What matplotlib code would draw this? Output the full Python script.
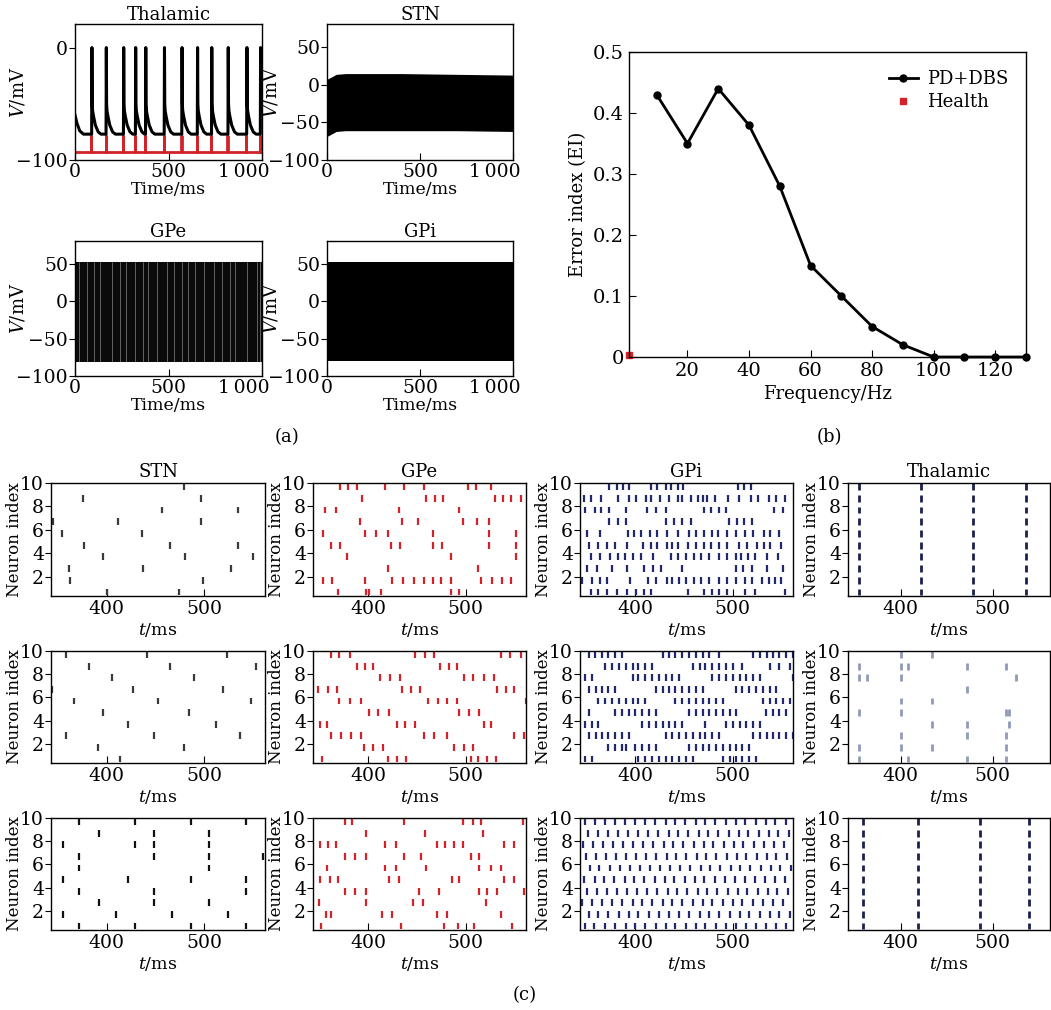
import matplotlib
matplotlib.use("Agg")
import matplotlib.pyplot as plt
from matplotlib.transforms import ScaledTranslation
import numpy as np

plt.rcParams['font.family'] = ['DejaVu Serif']
plt.rcParams['mathtext.fontset'] = 'dejavuserif'
plt.rcParams['font.size'] = 12.5
plt.rcParams['xtick.labelsize'] = 13.5
plt.rcParams['ytick.labelsize'] = 13.5
plt.rcParams['axes.titlesize'] = 13
plt.rcParams['axes.linewidth'] = 1.0

W, H = 1051, 1010

# ---------------- (a) membrane potentials ----------------
thal_spikes = [89, 166, 259, 323, 377, 477, 571, 654, 730, 818, 918, 991]
# one thalamic spike: offset from spike (ms), voltage (mV)
thal_shape_dt = [0, 1.5, 3, 5, 10, 20, 35, 50]
thal_shape_v = [-77, 0, -50, -56, -61, -69, -75, -77]
thal_start_t = [0, 10, 25, 45]
thal_start_v = [-60, -67, -74, -77]
red_spikes = [87, 164, 257, 321, 375, 475, 569, 652, 728, 815, 915, 988]
red_rest, red_peak = -93, -79

stn_env_t = [0, 5, 20, 50, 100, 400, 700, 1000]
stn_env_hi = [8, 8, 10, 14, 15, 15, 14, 13]
stn_env_lo = [-68, -68, -66, -62, -61, -61, -61, -62]
stn_first_peak = 60

gpe_env_t = [0, 1000]
gpe_env_hi = [53, 53]
gpe_env_lo = [-81, -81]
gpe_gaps = [23, 66, 102, 134, 196, 241, 273, 321, 366, 393, 437, 491, 527,
            571, 604, 643, 688, 741, 786, 830, 857, 920, 973, 991]

gpi_env_t = [0, 1000]
gpi_env_hi = [53, 53]
gpi_env_lo = [-80, -80]

# ---------------- (b) error index ----------------
freq = [10, 20, 30, 40, 50, 60, 70, 80, 90, 100, 110, 120, 130]
ei = [0.43, 0.35, 0.44, 0.38, 0.28, 0.15, 0.10, 0.05, 0.02, 0.0, 0.0, 0.0, 0.0]
health_f, health_ei = [1], [0.003]

# ---------------- (c) rasters, spike times (ms) for neurons 1..10 ----------------
stn_r1 = [[400, 474], [362, 499], [361, 437, 527], [396, 480, 550], [377, 465, 534],
          [354, 436], [345, 412, 497], [457, 534], [376, 497], [479]]
gpe_r1 = [[369, 398, 401, 413, 485, 493],
          [353, 363, 396, 424, 436, 447, 457, 466, 475, 485, 516, 527, 537, 547],
          [420, 513],
          [378, 485, 552],
          [362, 371, 423, 432, 466, 476, 524, 552],
          [353, 396, 408, 420, 466, 524, 552],
          [391, 435, 451, 497, 512, 524],
          [355, 367, 431, 493],
          [393, 459, 468, 477, 530, 538, 547, 557],
          [371, 379, 388, 417, 437, 457, 502, 511, 526]]
gpi_r1 = [[354, 361, 371, 381, 391, 401, 409, 416, 454, 471, 479, 486, 494, 513, 523, 554],
          [345, 355, 364, 371, 394, 413, 421, 432, 438, 445, 452, 460, 467, 476, 486, 494, 503,
           513, 520, 530, 537, 543, 550],
          [350, 360, 376, 391, 409, 418, 426, 448, 503, 511, 520, 535, 552],
          [354, 364, 374, 382, 389, 398, 406, 418, 437, 444, 452, 460, 467, 476, 486, 494, 503,
           509, 516, 523, 535, 547],
          [352, 362, 371, 379, 391, 408, 416, 422, 432, 438, 444, 454, 462, 471, 478, 486, 494,
           506, 515, 525, 532, 538, 550],
          [350, 364, 392, 399, 406, 415, 422, 432, 444, 455, 462, 470, 479, 485, 494, 503, 513,
           521, 532, 538, 548],
          [373, 382, 390, 431, 440, 448, 457, 496, 504, 512, 520],
          [348, 358, 365, 373, 390, 412, 421, 431, 471, 478, 486, 493, 542, 552],
          [347, 354, 365, 382, 393, 401, 411, 416, 425, 435, 444, 448, 457, 464, 469, 474, 482,
           495, 506, 519, 526, 537, 545, 554],
          [373, 381, 387, 393, 416, 422, 431, 437, 444, 449, 505, 512, 519]]
thal_r1 = [[355, 422, 478, 536]] * 10

stn_r2 = [[414], [391, 479], [358, 448, 536], [422, 512], [396, 484],
          [367, 453, 548], [344, 427, 519], [405, 489], [382, 465, 553], [358, 441, 523]]
gpe_r2 = [[352, 420, 429, 439, 505, 513, 522, 531],
          [395, 405, 415, 488, 498, 508],
          [361, 372, 382, 392, 457, 467, 481, 550, 560],
          [350, 357, 429, 438, 448, 519, 526],
          [401, 410, 421, 493, 503, 514],
          [370, 381, 392, 461, 472, 481, 491, 562],
          [348, 358, 368, 435, 444, 453, 532, 541, 550],
          [412, 422, 432, 498, 508, 519, 529],
          [388, 396, 405, 474, 483, 491],
          [361, 370, 381, 448, 458, 467, 536, 546, 557]]
gpi_r2 = [[348, 355, 403, 410, 417, 424, 431, 438, 445, 452, 459, 490, 497, 503, 510, 517, 524],
          [372, 379, 386, 390, 400, 407, 414, 421, 455, 462, 469, 476, 483, 490, 497, 503, 510, 517],
          [352, 359, 366, 372, 379, 386, 393, 431, 438, 445, 452, 459, 466, 472, 479, 486, 521, 528,
           535, 541, 548, 555, 562],
          [348, 355, 362, 407, 414, 421, 428, 435, 441, 448, 472, 493, 500, 507, 514, 521, 528],
          [352, 379, 386, 393, 400, 407, 414, 421, 455, 462, 469, 476, 483, 490, 497, 503, 534,
           541, 548, 555],
          [362, 369, 376, 383, 390, 397, 403, 410, 441, 448, 455, 462, 469, 476, 483, 490, 531,
           538, 545, 552, 559],
          [352, 359, 366, 372, 379, 421, 428, 435, 441, 448, 455, 462, 469, 503, 510, 517, 524,
           531, 538, 545],
          [348, 355, 397, 403, 410, 417, 424, 431, 438, 445, 479, 486, 493, 500, 507, 514, 521,
           528, 562],
          [369, 376, 383, 390, 397, 403, 410, 417, 459, 466, 472, 479, 486, 493, 500, 510, 538,
           548, 559],
          [352, 358, 366, 372, 379, 386, 428, 434, 441, 448, 455, 462, 469, 476, 486, 521, 528,
           535, 541, 548, 555, 562]]
thal_r2 = [[355, 408, 472, 514], [355, 401, 434, 514], [401, 472, 514], [434, 472, 518],
           [355, 401, 514, 518], [401, 434], [472], [355, 364, 401, 525],
           [355, 401, 408, 472, 514], [401, 434]]

stn_r3 = [[372, 429, 486, 543], [355, 410, 467, 524], [392, 448, 505], [372, 448, 543],
          [355, 422, 486, 543], [372, 505], [372, 448, 505, 560], [355, 429, 448, 505],
          [392, 448, 505], [372, 429, 486, 543]]
gpe_r3 = [[351, 433, 478, 492, 509, 548],
          [356, 361, 414, 424, 471, 481, 536],
          [349, 398, 446, 456, 521],
          [376, 386, 397, 452, 473, 514, 522, 532, 560],
          [350, 360, 369, 421, 431, 486, 493, 539, 550],
          [357, 417, 428, 459, 514, 526, 536],
          [376, 386, 398, 437, 454, 505, 514],
          [350, 358, 367, 417, 428, 470, 479, 488, 497, 539, 550],
          [398, 458, 518],
          [376, 383, 437, 497, 507, 516, 559]]
gpi_r3 = [[348, 357, 369, 379, 390, 400, 410, 421, 431, 441, 452, 462, 472, 483, 493, 503,
           514, 524, 534, 545, 555],
          [352, 362, 372, 383, 393, 403, 414, 424, 434, 445, 455, 466, 476, 486, 497, 507,
           517, 528, 538, 548, 559],
          [345, 355, 366, 376, 386, 397, 407, 417, 428, 438, 448, 459, 469, 479, 490, 500,
           510, 521, 531, 541, 552],
          [350, 360, 371, 381, 391, 402, 412, 422, 433, 443, 453, 464, 474, 484, 495, 505,
           515, 526, 536, 546, 557],
          [347, 358, 368, 378, 389, 399, 409, 420, 430, 440, 451, 461, 471, 482, 492, 502,
           513, 523, 533, 544, 554],
          [353, 363, 374, 384, 394, 405, 415, 425, 436, 446, 456, 467, 477, 487, 498, 508,
           518, 529, 539, 549, 560],
          [349, 359, 370, 380, 390, 401, 411, 421, 432, 442, 452, 463, 473, 483, 494, 504,
           514, 525, 535, 545, 556],
          [346, 356, 367, 377, 387, 398, 408, 418, 429, 439, 449, 460, 470, 480, 491, 501,
           511, 522, 532, 542, 553],
          [351, 361, 372, 382, 392, 403, 413, 423, 434, 444, 454, 465, 475, 485, 496, 506,
           516, 527, 537, 547, 558],
          [348, 358, 369, 379, 389, 400, 410, 420, 431, 441, 451, 462, 472, 482, 493, 503,
           513, 524, 534, 544, 555]]
thal_r3 = [[359, 419, 486, 539]] * 10

RED = '#d2232a'
NAVY = '#22296b'


def box(l, t, r, b):
    return [l / W, 1 - b / H, (r - l) / W, (b - t) / H]


fig = plt.figure(figsize=(W / 100, H / 100), dpi=100)


def trace_axes(rect, title, yticks, ylim):
    ax = fig.add_axes(box(*rect))
    ax.set_xlim(0, 1000)
    ax.set_ylim(*ylim)
    ax.set_xticks([0, 500, 1000])
    ax.set_xticklabels(['0', '500', '1\u2009000'])
    ax.set_yticks(yticks)
    ax.tick_params(axis='x', direction='in', length=5, pad=2)
    ax.tick_params(axis='y', direction='out', length=4, pad=1)
    # the "1 000" label sits a little left of its tick, as in the figure
    last = ax.get_xticklabels()[-1]
    last.set_horizontalalignment('right')
    last.set_transform(last.get_transform() + ScaledTranslation(0.08, 0, fig.dpi_scale_trans))
    ax.set_title(title, pad=3)
    ax.set_xlabel('Time/ms', labelpad=0)
    ax.set_ylabel('$V$/mV', fontsize=13)
    # put the label's right edge a fixed number of pixels left of the spine
    ax.yaxis.set_label_coords(-47 / (rect[2] - rect[0]), 0.5)
    return ax


# Thalamic
ax = trace_axes((75, 24, 262, 160), 'Thalamic', [-100, 0], (-100, 21))
tt, vv = list(thal_start_t), list(thal_start_v)
for i, s in enumerate(thal_spikes):
    nxt = thal_spikes[i + 1] if i + 1 < len(thal_spikes) else 1000
    for dt, v in zip(thal_shape_dt, thal_shape_v):
        if s + dt < nxt and s + dt <= 1000:
            tt.append(s + dt)
            vv.append(v)
tt.append(1000)
vv.append(vv[-1])
rt, rv = [0], [red_rest]
for s in red_spikes:
    rt += [s - 0.8, s - 0.8, s + 0.8, s + 0.8]
    rv += [red_rest, red_peak, red_peak, red_rest]
rt.append(1000)
rv.append(red_rest)
ax.plot(rt, rv, color=RED, lw=2.0)
ax.plot(tt, vv, color='black', lw=2.2)

# STN
ax = trace_axes((327, 24, 513, 160), 'STN', [-100, -50, 0, 50], (-100, 81))
ax.fill_between(stn_env_t, stn_env_lo, stn_env_hi, color='black', lw=0)
ax.plot([2, 2], [stn_env_lo[0], stn_first_peak], color='black', lw=1.2)

# GPe
ax = trace_axes((75, 241, 262, 376), 'GPe', [-100, -50, 0, 50], (-100, 81))
ax.fill_between(gpe_env_t, gpe_env_lo, gpe_env_hi, color='#0a0a0a', lw=0)
ax.vlines(gpe_gaps, gpe_env_lo[0], gpe_env_hi[0], color='#bbbbbb', lw=0.5, alpha=0.7)

# GPi
ax = trace_axes((327, 241, 513, 376), 'GPi', [-100, -50, 0, 50], (-100, 81))
ax.fill_between(gpi_env_t, gpi_env_lo, gpi_env_hi, color='black', lw=0)

fig.text(287 / W, 1 - 437 / H, '(a)', ha='center', va='center', fontsize=13)

# ---------------- (b) ----------------
ax = fig.add_axes(box(629, 52, 1026, 357))
ax.plot(freq, ei, color='black', lw=2, marker='o', ms=5, label='PD+DBS', clip_on=False)
ax.plot(health_f, health_ei, ls='none', marker='s', ms=5, color=RED, label='Health',
        clip_on=False)
ax.set_xlim(1, 130)
ax.set_ylim(0, 0.5)
ax.set_xticks([20, 40, 60, 80, 100, 120])
ax.set_yticks([0, 0.1, 0.2, 0.3, 0.4, 0.5])
ax.set_yticklabels(['0', '0.1', '0.2', '0.3', '0.4', '0.5'])
ax.tick_params(direction='in', length=5, labelsize=14)
ax.set_xlabel('Frequency/Hz', labelpad=4, fontsize=13)
ax.set_ylabel('Error index (EI)', fontsize=13)
ax.legend(loc='upper right', frameon=False, handlelength=1.6, handletextpad=0.5,
          borderaxespad=0.6, labelspacing=0.3, fontsize=13)
fig.text(829 / W, 1 - 437 / H, '(b)', ha='center', va='center', fontsize=13)

# ---------------- (c) ----------------
cols = [(51, 265), (313, 526), (580, 793), (848, 1050)]
rows = [(483, 596), (651, 763), (818, 930)]
titles = ['STN', 'GPe', 'GPi', 'Thalamic']
grid = [[stn_r1, gpe_r1, gpi_r1, thal_r1],
        [stn_r2, gpe_r2, gpi_r2, thal_r2],
        [stn_r3, gpe_r3, gpi_r3, thal_r3]]
colors = [['#3a3a3a', RED, NAVY, '#1c2150'],
          ['#3a3a3a', RED, NAVY, '#8f9ab8'],
          ['#111111', RED, NAVY, '#1c2150']]

for r, (top, bot) in enumerate(rows):
    for c, (left, right) in enumerate(cols):
        ax = fig.add_axes(box(left, top, right, bot))
        for n, times in enumerate(grid[r][c], start=1):
            ax.vlines(times, n - 0.6, n - 0.02, color=colors[r][c],
                      lw=2.0 if c == 3 else 1.6)
        ax.set_xlim(343, 562)
        ax.set_ylim(0.35, 10)
        ax.set_xticks([400, 500])
        ax.set_yticks([2, 4, 6, 8, 10])
        ax.tick_params(axis='x', direction='in', length=5, pad=3)
        ax.tick_params(axis='y', direction='out', length=4, pad=1)
        ax.set_xlabel('$t$/ms', labelpad=2)
        ax.set_ylabel('Neuron index', fontsize=12)
        ax.yaxis.set_label_coords(-28 / (right - left), 0.5)
        if r == 0:
            ax.set_title(titles[c], pad=4)

fig.text(525 / W, 1 - 995 / H, '(c)', ha='center', va='center', fontsize=13)

fig.savefig('out.png', dpi=100)
